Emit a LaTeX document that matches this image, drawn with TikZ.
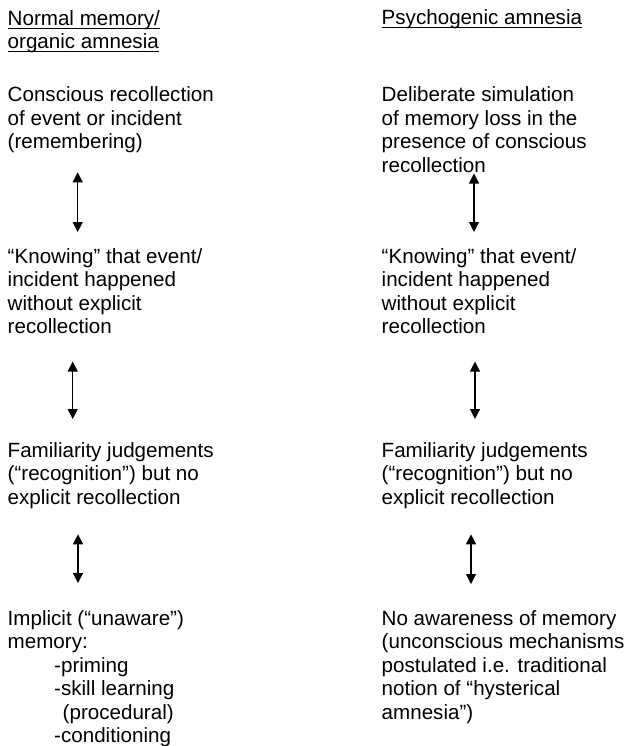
\documentclass[tikz,border=0pt]{standalone}
\usepackage{fontspec}
\setmainfont{Liberation Sans}
\usetikzlibrary{arrows.meta}

% underlined column heading
\newsavebox{\headbox}
\newcommand{\headline}[1]{\sbox{\headbox}{#1}\rlap{\rule[-3.8pt]{\wd\headbox}{1.3pt}}\usebox{\headbox}}

\begin{document}
\begin{tikzpicture}[x=1pt,y=-1pt,
	block/.style = {anchor=north west,
		inner sep=0pt,
		align=left,
		font=\fontsize{20.6}{23.5}\selectfont},
	updown/.style = {>={Triangle[width=10pt,length=10pt]}, <->,
		line width=1.2pt}]
	
	\useasboundingbox (0,0) rectangle (629,746);
	
	% Headings
	\node[block] (lhead) at (7.5,10.5) {\headline{Normal memory/}\\[-1pt]\headline{organic amnesia}};
	\node[block] (rhead) at (381.5,9.5) {\headline{Psychogenic amnesia}};
	
	% Left column
	\node[block] (l1) at (7.5,86.7) {Conscious recollection\\of event or incident\\(remembering)};
	\node[block] (l2) at (7.5,248) {“Knowing” that event/\\incident happened\\without explicit\\recollection};
	\node[block] (l3) at (7.5,442) {Familiarity judgements\\(“recognition”) but no\\explicit recollection};
	\node[block] (l4) at (7.5,610) {Implicit (“unaware”)\\memory:\\\hspace*{46.5pt}-priming\\\hspace*{46.5pt}-skill learning\\\hspace*{55pt}(procedural)\\\hspace*{46.5pt}-conditioning};
	
	% Right column
	\node[block] (r1) at (381.5,86.7) {Deliberate simulation\\of memory loss in the\\presence of conscious\\recollection};
	\node[block] (r2) at (381.5,248) {“Knowing” that event/\\incident happened\\without explicit\\recollection};
	\node[block] (r3) at (381.5,442) {Familiarity judgements\\(“recognition”) but no\\explicit recollection};
	\node[block] (r4) at (381.5,610) {No awareness of memory\\(unconscious mechanisms\\postulated i.e. traditional\\notion of “hysterical\\amnesia”)};
	
	% Arrows between levels
	\draw[updown, shorten <=19pt, shorten >=16pt] ([xshift=70.2pt]l1.south west) -- ([xshift=70.2pt]l2.north west);
	\draw[updown, shorten <=27.5pt, shorten >=23pt] ([xshift=65.2pt]l2.south west) -- ([xshift=65.2pt]l3.north west);
	\draw[updown, shorten <=25.7pt, shorten >=27pt] ([xshift=70.5pt]l3.south west) -- ([xshift=70.5pt]l4.north west);
	
	\draw[updown, shorten <=0.8pt, shorten >=16pt] ([xshift=92.5pt]r1.south west) -- ([xshift=92.5pt]r2.north west);
	\draw[updown, shorten <=27.5pt, shorten >=23pt] ([xshift=93.5pt]r2.south west) -- ([xshift=93.5pt]r3.north west);
	\draw[updown, shorten <=25.7pt, shorten >=26pt] ([xshift=89.5pt]r3.south west) -- ([xshift=89.5pt]r4.north west);
	
\end{tikzpicture}
\end{document}
